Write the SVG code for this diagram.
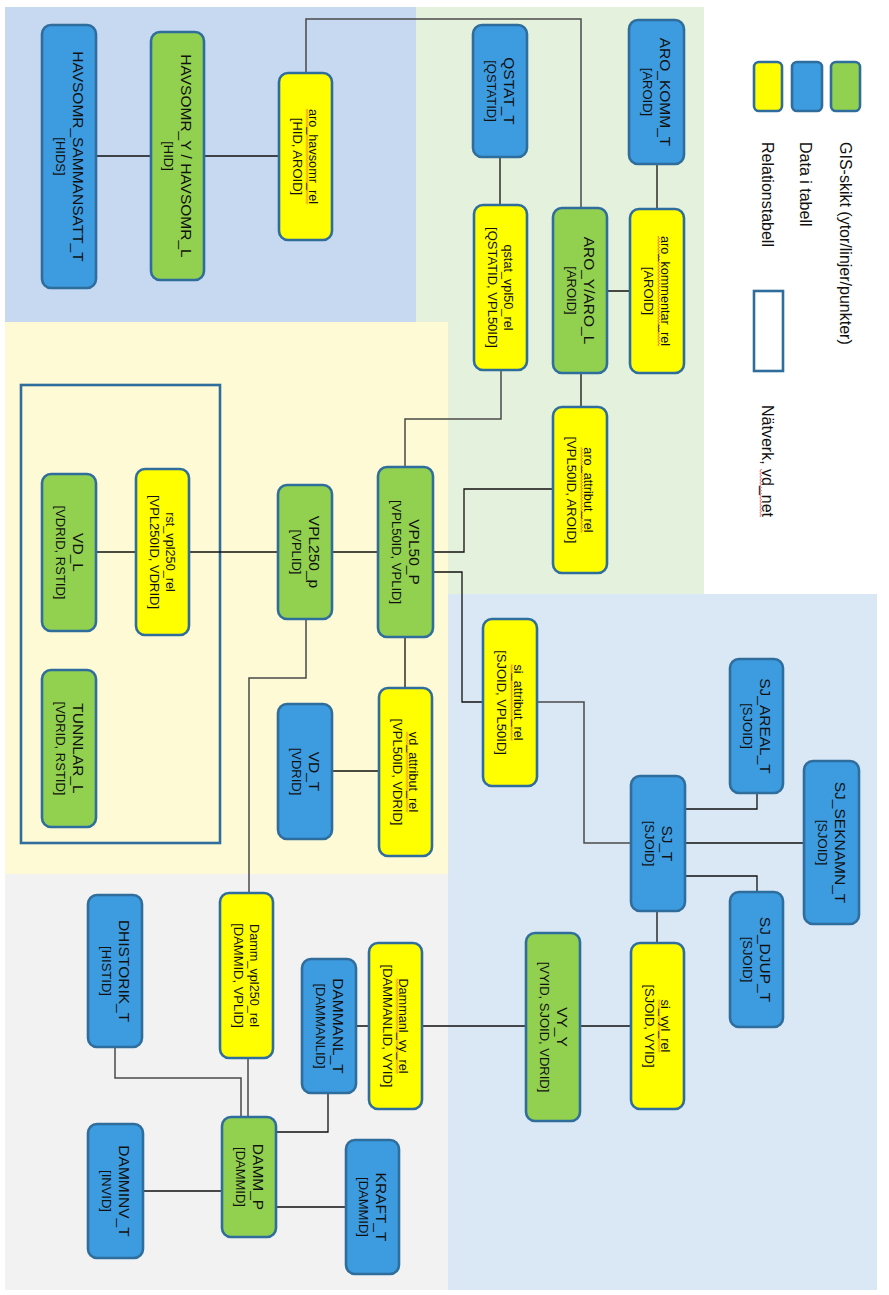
<svg xmlns="http://www.w3.org/2000/svg" width="889" height="1295" viewBox="0 0 889 1295">
<defs>
<style>
.n{stroke:#2f6d9c;stroke-width:2.6}
.b{fill:#3d9be0}
.g{fill:#92d050}
.y{fill:#ffff00}
.t{font-family:"Liberation Sans",Arial,sans-serif;fill:#111;text-anchor:middle}
.nm{font-size:15.5px}
.rn{font-size:12.7px}
.id{font-size:13px}
.lg{font-family:"Liberation Sans",Arial,sans-serif;fill:#111;font-size:16px}
.c{fill:none;stroke:#111;stroke-width:1.3}
.cg{fill:none;stroke:#4a4a4a;stroke-width:1.5}
.sq{fill:url(#wave)}
</style>
<pattern id="wave" width="3" height="3" patternUnits="userSpaceOnUse">
<path d="M0,2.5 L1.5,0.5 L3,2.5" fill="none" stroke="#e03030" stroke-width="0.7"/>
</pattern>
</defs>
<rect width="889" height="1295" fill="#ffffff"/>
<g id="regions">
<rect x="5" y="7" width="411" height="315" fill="#c6d9f1"/>
<rect x="416" y="7" width="288" height="587" fill="#e4f1dc"/>
<rect x="5" y="322" width="443" height="552" fill="#fffad6"/>
<rect x="5" y="874" width="443" height="416" fill="#f2f2f2"/>
<rect x="448" y="594" width="429" height="696" fill="#dae8f6"/>
</g>
<g id="network-box">
<rect x="21" y="385" width="199" height="458" fill="none" stroke="#2f6d9c" stroke-width="2.6"/>
</g>
<g id="connectors">
<path class="c" d="M96,156H151M204,156H279"/>
<path class="cg" d="M306,73V19H581V208"/>
<path class="c" d="M500,157V205M657,164V209M607,291H630M581,373V407"/>
<path class="cg" d="M501,370V419H405V467"/>
<path class="c" d="M433,552H464V489H553"/>
<path class="c" d="M433,572H462V702H483"/>
<path class="cg" d="M537,702H584V843H631"/>
<path class="c" d="M685,809H757V793M685,843H804M685,876H757V892M657,911V943"/>
<path class="c" d="M356,1026H369M423,1026H526M580,1026H631"/>
<path class="c" d="M328,1093V1132H276M143,1191H222M276,1207H346"/>
<path class="cg" d="M115,1047V1078H241V1117M248,1058V1117"/>
<path class="cg" d="M306,619V678H249V893"/>
<path class="c" d="M405,637V688M332,771H379"/>
<path class="c" d="M96,552H378"/>
</g>
<g id="HAVSOMR_SAMMANSATT_T"><rect class="n b" x="42" y="25" width="54" height="263" rx="9"/>
<text class="t" transform="translate(69,156.5) rotate(90)"><tspan class="nm" x="0" y="-3.5">HAVSOMR_SAMMANSATT_T</tspan><tspan class="id" x="0" y="13.5">[HIDS]</tspan></text></g>
<g id="HAVSOMR_Y"><rect class="n g" x="151" y="32" width="53" height="248" rx="9"/>
<text class="t" transform="translate(177.5,156) rotate(90)"><tspan class="nm" x="0" y="-3.5">HAVSOMR_Y / HAVSOMR_L</tspan><tspan class="id" x="0" y="13.5">[HID]</tspan></text></g>
<g id="aro_havsomr_rel"><rect class="n y" x="279" y="73" width="53" height="167" rx="9"/>
<g transform="translate(305.5,156.5) rotate(90)"><rect class="sq" x="-47.6" y="-3" width="95.3" height="3"/>
<text class="t"><tspan class="rn" x="0" y="-3.5">aro_havsomr_rel</tspan><tspan class="id" x="0" y="13">[HID, AROID]</tspan></text></g></g>
<g id="QSTAT_T"><rect class="n b" x="473" y="25" width="54" height="132" rx="9"/>
<text class="t" transform="translate(500,91) rotate(90)"><tspan class="nm" x="0" y="-3.5">QSTAT_T</tspan><tspan class="id" x="0" y="13.5">[QSTATID]</tspan></text></g>
<g id="ARO_KOMM_T"><rect class="n b" x="629" y="20" width="55" height="144" rx="9"/>
<text class="t" transform="translate(656.5,92) rotate(90)"><tspan class="nm" x="0" y="-3.5">ARO_KOMM_T</tspan><tspan class="id" x="0" y="13.5">[AROID]</tspan></text></g>
<g id="qstat_vpl50_rel"><rect class="n y" x="474" y="205" width="53" height="165" rx="9"/>
<text class="t" transform="translate(500.5,287.5) rotate(90)"><tspan class="rn" x="0" y="-3.5">qstat_vpl50_rel</tspan><tspan class="id" x="0" y="13">[QSTATID, VPL50ID]</tspan></text></g>
<g id="ARO_Y"><rect class="n g" x="553" y="208" width="54" height="165" rx="9"/>
<text class="t" transform="translate(580,290.5) rotate(90)"><tspan class="nm" x="0" y="-3.5">ARO_Y/ARO_L</tspan><tspan class="id" x="0" y="13.5">[AROID]</tspan></text></g>
<g id="aro_kommentar_rel"><rect class="n y" x="630" y="209" width="54" height="164" rx="9"/>
<g transform="translate(657,291) rotate(90)"><rect class="sq" x="-55" y="-3" width="110.1" height="3"/>
<text class="t"><tspan class="rn" x="0" y="-3.5">aro_kommentar_rel</tspan><tspan class="id" x="0" y="13">[AROID]</tspan></text></g></g>
<g id="aro_attribut_rel"><rect class="n y" x="553" y="407" width="54" height="166" rx="9"/>
<g transform="translate(580,490) rotate(90)"><rect class="sq" x="-42.7" y="-3" width="85.4" height="3"/>
<text class="t"><tspan class="rn" x="0" y="-3.5">aro_attribut_rel</tspan><tspan class="id" x="0" y="13">[VPL50ID, AROID]</tspan></text></g></g>
<g id="VPL50_P"><rect class="n g" x="378" y="467" width="55" height="170" rx="9"/>
<text class="t" transform="translate(405.5,552) rotate(90)"><tspan class="nm" x="0" y="-3.5">VPL50_P</tspan><tspan class="id" x="0" y="13.5">[VPL50ID, VPLID]</tspan></text></g>
<g id="VPL250_p"><rect class="n g" x="278" y="485" width="54" height="134" rx="9"/>
<text class="t" transform="translate(305,552) rotate(90)"><tspan class="nm" x="0" y="-3.5">VPL250_p</tspan><tspan class="id" x="0" y="13.5">[VPLID]</tspan></text></g>
<g id="rst_vpl250_rel"><rect class="n y" x="136" y="469" width="53" height="166" rx="9"/>
<text class="t" transform="translate(162.5,552) rotate(90)"><tspan class="rn" x="0" y="-3.5">rst_vpl250_rel</tspan><tspan class="id" x="0" y="13">[VPL250ID, VDRID]</tspan></text></g>
<g id="VD_L"><rect class="n g" x="42" y="474" width="54" height="157" rx="9"/>
<text class="t" transform="translate(69,552.5) rotate(90)"><tspan class="nm" x="0" y="-3.5">VD_L</tspan><tspan class="id" x="0" y="13.5">[VDRID, RSTID]</tspan></text></g>
<g id="TUNNLAR_L"><rect class="n g" x="42" y="670" width="54" height="157" rx="9"/>
<text class="t" transform="translate(69,748.5) rotate(90)"><tspan class="nm" x="0" y="-3.5">TUNNLAR_L</tspan><tspan class="id" x="0" y="13.5">[VDRID, RSTID]</tspan></text></g>
<g id="VD_T"><rect class="n b" x="278" y="704" width="54" height="135" rx="9"/>
<text class="t" transform="translate(305,771.5) rotate(90)"><tspan class="nm" x="0" y="-3.5">VD_T</tspan><tspan class="id" x="0" y="13.5">[VDRID]</tspan></text></g>
<g id="vd_attribut_rel"><rect class="n y" x="379" y="688" width="53" height="168" rx="9"/>
<g transform="translate(405.5,772) rotate(90)"><rect class="sq" x="-40.2" y="-3" width="80.5" height="3"/>
<text class="t"><tspan class="rn" x="0" y="-3.5">vd_attribut_rel</tspan><tspan class="id" x="0" y="13">[VPL50ID, VDRID]</tspan></text></g></g>
<g id="si_attribut_rel"><rect class="n y" x="483" y="619" width="54" height="167" rx="9"/>
<g transform="translate(510,702.5) rotate(90)"><rect class="sq" x="-38.1" y="-3" width="76.2" height="3"/>
<text class="t"><tspan class="rn" x="0" y="-3.5">si_attribut_rel</tspan><tspan class="id" x="0" y="13">[SJOID, VPL50ID]</tspan></text></g></g>
<g id="SJ_T"><rect class="n b" x="631" y="776" width="54" height="135" rx="9"/>
<text class="t" transform="translate(658,843.5) rotate(90)"><tspan class="nm" x="0" y="-3.5">SJ_T</tspan><tspan class="id" x="0" y="13.5">[SJOID]</tspan></text></g>
<g id="SJ_AREAL_T"><rect class="n b" x="730" y="659" width="53" height="134" rx="9"/>
<text class="t" transform="translate(756.5,726) rotate(90)"><tspan class="nm" x="0" y="-3.5">SJ_AREAL_T</tspan><tspan class="id" x="0" y="13.5">[SJOID]</tspan></text></g>
<g id="SJ_SEKNAMN_T"><rect class="n b" x="804" y="761" width="55" height="163" rx="9"/>
<text class="t" transform="translate(831.5,842.5) rotate(90)"><tspan class="nm" x="0" y="-3.5">SJ_SEKNAMN_T</tspan><tspan class="id" x="0" y="13.5">[SJOID]</tspan></text></g>
<g id="SJ_DJUP_T"><rect class="n b" x="730" y="892" width="53" height="135" rx="9"/>
<text class="t" transform="translate(756.5,959.5) rotate(90)"><tspan class="nm" x="0" y="-3.5">SJ_DJUP_T</tspan><tspan class="id" x="0" y="13.5">[SJOID]</tspan></text></g>
<g id="si_vyl_rel"><rect class="n y" x="631" y="943" width="53" height="166" rx="9"/>
<g transform="translate(657.5,1026) rotate(90)"><rect class="sq" x="-26.5" y="-3" width="52.9" height="3"/>
<text class="t"><tspan class="rn" x="0" y="-3.5">si_vyl_rel</tspan><tspan class="id" x="0" y="13">[SJOID, VYID]</tspan></text></g></g>
<g id="VY_Y"><rect class="n g" x="526" y="933" width="54" height="188" rx="9"/>
<text class="t" transform="translate(553,1027) rotate(90)"><tspan class="nm" x="0" y="-3.5">VY_Y</tspan><tspan class="id" x="0" y="13.5">[VYID, SJOID, VDRID]</tspan></text></g>
<g id="Dammanl_vy_rel"><rect class="n y" x="369" y="943" width="53" height="166" rx="9"/>
<g transform="translate(395.5,1026) rotate(90)"><rect class="sq" x="-47.6" y="-3" width="95.3" height="3"/>
<text class="t"><tspan class="rn" x="0" y="-3.5">Dammanl_vy_rel</tspan><tspan class="id" x="0" y="13">[DAMMANLID, VYID]</tspan></text></g></g>
<g id="DAMMANL_T"><rect class="n b" x="302" y="959" width="54" height="134" rx="9"/>
<text class="t" transform="translate(329,1026) rotate(90)"><tspan class="nm" x="0" y="-3.5">DAMMANL_T</tspan><tspan class="id" x="0" y="13.5">[DAMMANLID]</tspan></text></g>
<g id="Damm_vpl250_rel"><rect class="n y" x="220" y="893" width="53" height="165" rx="9"/>
<text class="t" transform="translate(246.5,975.5) rotate(90)"><tspan class="rn" x="0" y="-3.5">Damm_vpl250_rel</tspan><tspan class="id" x="0" y="13">[DAMMID, VPLID]</tspan></text></g>
<g id="DHISTORIK_T"><rect class="n b" x="88" y="895" width="54" height="152" rx="9"/>
<text class="t" transform="translate(115,971) rotate(90)"><tspan class="nm" x="0" y="-3.5">DHISTORIK_T</tspan><tspan class="id" x="0" y="13.5">[HISTID]</tspan></text></g>
<g id="DAMM_P"><rect class="n g" x="222" y="1117" width="54" height="120" rx="9"/>
<text class="t" transform="translate(249,1177) rotate(90)"><tspan class="nm" x="0" y="-3.5">DAMM_P</tspan><tspan class="id" x="0" y="13.5">[DAMMID]</tspan></text></g>
<g id="DAMMINV_T"><rect class="n b" x="88" y="1124" width="55" height="134" rx="9"/>
<text class="t" transform="translate(115.5,1191) rotate(90)"><tspan class="nm" x="0" y="-3.5">DAMMINV_T</tspan><tspan class="id" x="0" y="13.5">[INVID]</tspan></text></g>
<g id="KRAFT_T"><rect class="n b" x="346" y="1140" width="53" height="134" rx="9"/>
<text class="t" transform="translate(372.5,1207) rotate(90)"><tspan class="nm" x="0" y="-3.5">KRAFT_T</tspan><tspan class="id" x="0" y="13.5">[DAMMID]</tspan></text></g>
<g id="legend">
<rect class="n y" x="754" y="62" width="28" height="49" rx="5" stroke-width="3"/>
<rect class="n b" x="792" y="62" width="30" height="49" rx="5" stroke-width="3"/>
<rect class="n g" x="831" y="62" width="29" height="49" rx="5" stroke-width="3"/>
<rect x="754" y="291" width="29" height="80" fill="#ffffff" stroke="#2f6d9c" stroke-width="2.6"/>
<text class="lg" transform="translate(762,142) rotate(90)">Relationstabell</text>
<text class="lg" transform="translate(800,142) rotate(90)">Data i tabell</text>
<text class="lg" transform="translate(840,142) rotate(90)">GIS-skikt (ytor/linjer/punkter)</text>
<g transform="translate(762,405) rotate(90)"><rect class="sq" x="64" y="0" width="48" height="3"/>
<text class="lg">Nätverk, vd_net</text></g>
</g>
</svg>
